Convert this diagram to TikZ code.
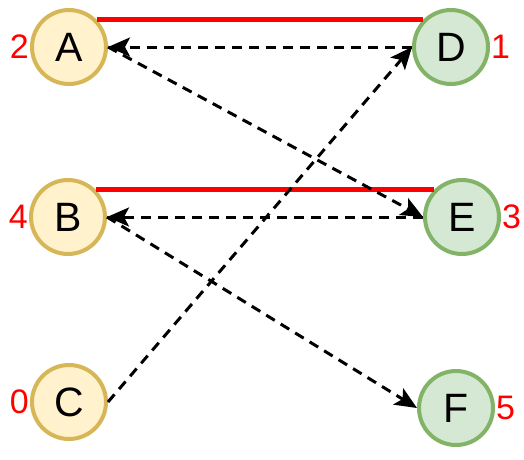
\documentclass[tikz,border=0pt]{standalone}
\usepackage{fontspec}
\setmainfont{Liberation Sans}
\usetikzlibrary{arrows.meta}
\definecolor{ylwfill}{HTML}{FFF2CC}
\definecolor{ylwline}{HTML}{D6B656}
\definecolor{grnfill}{HTML}{D5E8D4}
\definecolor{grnline}{HTML}{82B366}
\begin{document}
\begin{tikzpicture}[x=1pt,y=-1pt,
	vtx/.style = {circle, line width=4pt, minimum size=74pt, inner sep=0pt, font=\fontsize{41}{41}\selectfont},
	lft/.style = {vtx, draw=ylwline, fill=ylwfill},
	rgt/.style = {vtx, draw=grnline, fill=grnfill},
	lbl/.style = {text=red, inner sep=1pt, font=\fontsize{34}{34}\selectfont},
	match/.style = {draw=red, line width=4.5pt},
	alt/.style = {draw=black, line width=3pt, dash pattern=on 10pt off 7pt, -{Stealth[length=22pt,width=19pt,inset=5pt]}}]
%	\draw[help lines] (0,0) grid[step=20] (524,459);
	\useasboundingbox (0,0) rectangle (524,459);
	\node [lft, label={[lbl, label distance=0pt]left:2}] (A) at (69,47) {A};
	\node [lft, label={[lbl, label distance=0pt]left:4}] (B) at (68,217) {B};
	\node [lft, label={[lbl, label distance=0pt]left:0}] (C) at (69,402) {C};
	\node [rgt, label={[lbl, label distance=0pt]right:1}] (D) at (451,47) {D};
	\node [rgt, label={[lbl, label distance=0pt]right:3}] (E) at (462,217) {E};
	\node [rgt, label={[lbl, label distance=0pt]right:5}] (F) at (456,408) {F};
	\draw [match] (A.45) -- (D.135);
	\draw [match] (B.45) -- (E.135);
	\draw [alt] (D.west) -- (A.east);
	\draw [alt] (A.east) -- (E.west);
	\draw [alt] (E.west) -- (B.east);
	\draw [alt] (B.east) -- (F.west);
	\draw [alt] (C.east) -- (D.west);
\end{tikzpicture}
\end{document}
